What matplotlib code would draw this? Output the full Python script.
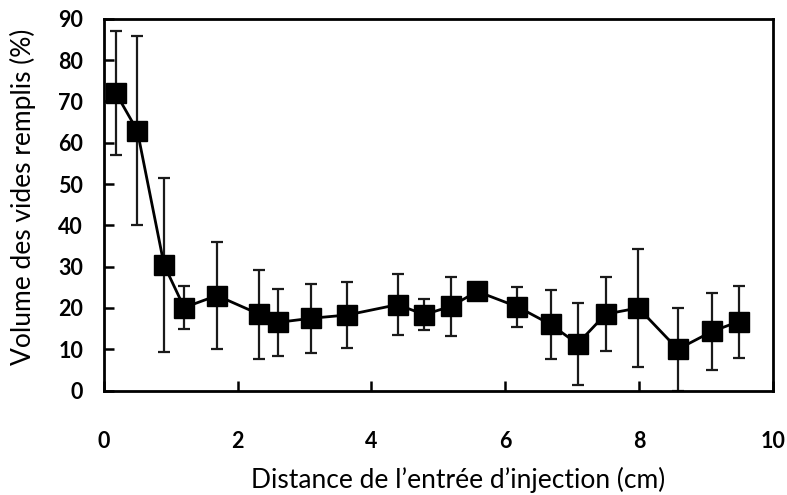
import matplotlib.pyplot as plt

# distance from injection inlet (cm)
distance = [0.18, 0.50, 0.90, 1.20, 1.69, 2.32, 2.60, 3.10, 3.64, 4.39, 4.79,
            5.19, 5.58, 6.18, 6.68, 7.08, 7.50, 7.99, 8.58, 9.09, 9.49]
# filled void volume (%)
volume = [72.0, 62.9, 30.4, 20.1, 23.0, 18.5, 16.5, 17.5, 18.3, 20.8, 18.4,
          20.4, 24.0, 20.3, 16.0, 11.3, 18.5, 20.0, 10.0, 14.3, 16.7]
# standard deviation (%)
err = [15.0, 22.9, 21.1, 5.1, 13.0, 10.8, 8.2, 8.3, 8.0, 7.4, 3.8,
       7.2, 0.8, 4.8, 8.4, 10.0, 9.0, 14.3, 10.0, 9.3, 8.7]

plt.rcParams['font.family'] = ['Lato', 'DejaVu Sans']

fig = plt.figure(figsize=(7.87, 4.95), dpi=100)
ax = fig.add_axes([0.132, 0.211, 0.850, 0.751])

ax.errorbar(distance, volume, yerr=err, fmt='none', ecolor='#1a1a1a',
            elinewidth=1.6, capsize=4.5, capthick=1.6, zorder=2)
ax.plot(distance, volume, color='black', linewidth=2.0, marker='s',
        markersize=14, markerfacecolor='black', markeredgecolor='black', zorder=3)

ax.set_xlim(0, 10)
ax.set_ylim(0, 90)
ax.set_xticks([0, 2, 4, 6, 8, 10])
ax.set_yticks(range(0, 91, 10))

for s in ax.spines.values():
    s.set_linewidth(2.0)
    s.set_color('black')

ax.tick_params(axis='both', direction='in', length=7, width=1.8, labelsize=15.5)
ax.tick_params(axis='x', pad=29)
ax.tick_params(axis='y', pad=15)
for lab in ax.get_xticklabels() + ax.get_yticklabels():
    lab.set_fontweight('bold')

ax.set_xlabel("Distance de l\u2019entrée d\u2019injection (cm)", fontsize=19)
ax.set_ylabel("Volume des vides remplis (%)", fontsize=19)
ax.xaxis.set_label_coords(0.53, -0.205)
ax.yaxis.set_label_coords(-0.102, 0.52)

fig.savefig('out.png', dpi=100)
